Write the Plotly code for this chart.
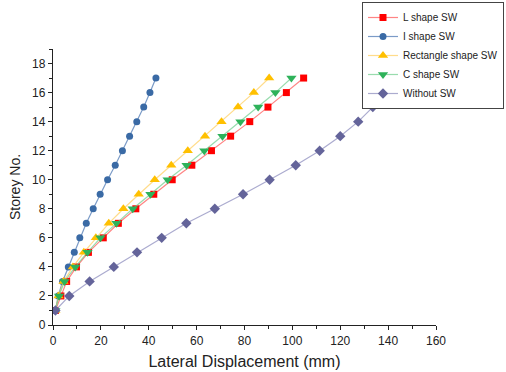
import plotly.graph_objects as go

storey = list(range(1, 18))

l_shape = [1.0, 3.3, 5.7, 9.8, 14.8, 21.0, 27.3, 34.6, 42.1, 49.8, 58.0, 66.2, 74.2, 82.2, 89.8, 97.5, 104.7]
i_shape = [1.0, 2.2, 4.0, 6.4, 8.9, 11.2, 13.9, 16.8, 19.7, 22.8, 26.0, 29.0, 32.0, 35.0, 37.9, 40.5, 43.0]
rect_shape = [1.0, 2.3, 4.4, 8.3, 12.9, 17.9, 23.3, 29.4, 35.8, 42.5, 49.4, 56.3, 63.5, 70.4, 77.3, 83.9, 90.3]
c_shape = [1.0, 2.5, 4.8, 9.3, 14.4, 19.8, 26.5, 33.3, 40.7, 47.9, 55.8, 63.2, 70.8, 78.3, 85.7, 92.9, 99.6]
without_sw = [1.0, 6.8, 15.3, 25.4, 35.1, 45.4, 55.7, 67.6, 79.4, 90.5, 101.4, 111.4, 120.0, 127.5, 133.6, 138.0, 143.0]

series = [
    ("L shape SW", l_shape, "#ff0000", "rgba(255,80,80,0.7)", "square", 7),
    ("I shape SW", i_shape, "#3a6aa5", "rgba(90,130,185,0.8)", "circle", 7),
    ("Rectangle shape SW", rect_shape, "#ffc000", "rgba(255,205,90,0.7)", "triangle-up", 9),
    ("C shape SW", c_shape, "#2eb25a", "rgba(110,205,140,0.7)", "triangle-down", 9),
    ("Without SW", without_sw, "#64649a", "rgba(150,150,195,0.8)", "diamond", 8),
]

FONT = "Liberation Sans, Arial"

fig = go.Figure()
for name, xs, mc, lc, sym, sz in series:
    fig.add_trace(go.Scatter(
        x=xs, y=storey, name=name, mode="lines+markers",
        line=dict(color=lc, width=1.2),
        marker=dict(color=mc, symbol=sym, size=sz, line=dict(width=0)),
    ))

axis_common = dict(
    showgrid=False, zeroline=False, showline=True, linecolor="#222", linewidth=1.3,
    ticks="outside", ticklen=4, tickwidth=1.2, tickcolor="#222",
    tickfont=dict(family=FONT, size=12, color="#222"),
    minor=dict(ticks="outside", ticklen=2.5, tickwidth=1, tickcolor="#222"),
)

fig.update_xaxes(range=[0, 160], dtick=20, minor_dtick=10,
                 title=dict(text="Lateral Displacement (mm)", font=dict(family=FONT, size=16, color="#222"), standoff=9),
                 **axis_common)
fig.update_yaxes(range=[0, 19], dtick=2, minor_dtick=1,
                 title=dict(text="Storey No.", font=dict(family=FONT, size=14, color="#222"), standoff=8),
                 **axis_common)

fig.update_layout(
    width=506, height=372,
    margin=dict(l=53, r=70, t=49, b=47, autoexpand=False),
    paper_bgcolor="white", plot_bgcolor="white",
    showlegend=True,
    legend=dict(
        xref="container", yref="container", x=362 / 506, y=1 - 2 / 372,
        xanchor="left", yanchor="top",
        bgcolor="white", bordercolor="#444", borderwidth=1,
        font=dict(family=FONT, size=10, color="#222"),
        tracegroupgap=0, itemwidth=30,
    ),
)

fig.write_html("out.html")
